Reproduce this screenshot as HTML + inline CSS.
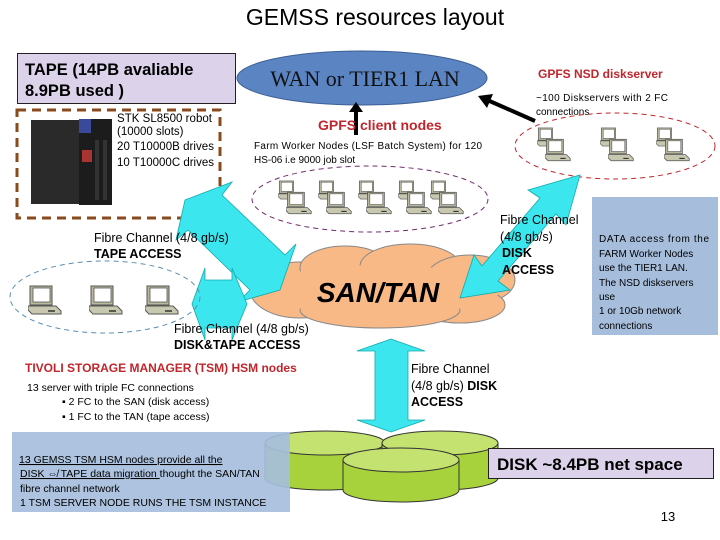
<!DOCTYPE html>
<html><head><meta charset="utf-8"><style>
html,body{margin:0;padding:0;background:#fff}
svg{display:block}
text{font-family:"Liberation Sans","DejaVu Sans",sans-serif}
</style></head><body>
<svg width="720" height="540" viewBox="0 0 720 540" xmlns="http://www.w3.org/2000/svg">
<defs>
<symbol id="pc" viewBox="0 0 34 30">
<rect x="2" y="1" width="22" height="19" fill="#b8b89c" stroke="#555" stroke-width="1"/>
<rect x="5" y="3" width="17" height="14" fill="#fff" stroke="#555" stroke-width="0.8"/>
<path d="M0 21 L28 21 L33 26 L33 29 L4 29 L0 25 Z" fill="#c8c8b0" stroke="#555" stroke-width="1"/>
<line x1="20" y1="26" x2="27" y2="26" stroke="#333" stroke-width="1.5"/>
</symbol>
</defs>

<text x="375" y="25" font-size="23" text-anchor="middle" fill="#000">GEMSS resources layout</text>

<rect x="17.5" y="53.5" width="218" height="50" fill="#dcd3ea" stroke="#222" stroke-width="1"/>
<text x="25" y="75" font-size="16.5" font-weight="bold">TAPE (14PB avaliable</text>
<text x="25" y="96" font-size="16.5" font-weight="bold">8.9PB used )</text>

<rect x="17" y="110" width="203" height="108" fill="none" stroke="#8b4a1c" stroke-width="3" stroke-dasharray="9,6"/>
<rect x="31" y="120" width="50" height="84" fill="#2a2a2a"/>
<rect x="79" y="119" width="33" height="86" fill="#1c1c1c"/>
<rect x="79" y="119" width="12" height="14" fill="#3a4a9a"/>
<rect x="82" y="150" width="10" height="12" fill="#a33"/>
<rect x="95" y="140" width="4" height="60" fill="#333"/>
<rect x="103" y="140" width="4" height="60" fill="#333"/>
<text x="117" y="122" font-size="11.5" textLength="95">STK SL8500 robot</text>
<text x="117" y="135" font-size="11.5">(10000 slots)</text>
<text x="117" y="150" font-size="11.5" textLength="97">20 T10000B drives</text>
<text x="117" y="166" font-size="11.5" textLength="97">10 T10000C drives</text>

<ellipse cx="362" cy="78" rx="125" ry="27" fill="#5b84c2" stroke="#3d5f94" stroke-width="1"/>
<text x="365" y="86" font-size="22" text-anchor="middle" style="font-family:'Liberation Serif',serif" fill="#111">WAN or TIER1 LAN</text>
<line x1="356" y1="135" x2="356" y2="110" stroke="#000" stroke-width="4"/>
<polygon points="349,112 363,112 356,102" fill="#000"/>
<line x1="535" y1="121" x2="485" y2="99" stroke="#000" stroke-width="4"/>
<polygon points="478,96 493,94 487,108" fill="#000"/>

<text x="318" y="130" font-size="14" font-weight="bold" fill="#c0262c">GPFS client nodes</text>
<text x="254" y="149" font-size="10" textLength="228">Farm Worker Nodes (LSF Batch System) for 120</text>
<text x="254" y="163" font-size="10">HS-06 i.e 9000 job slot</text>
<ellipse cx="370" cy="199" rx="118" ry="33" fill="none" stroke="#702b6e" stroke-width="1" stroke-dasharray="5,4"/>
<use href="#pc" x="278" y="180" width="22" height="20"/><use href="#pc" x="318" y="180" width="22" height="20"/><use href="#pc" x="358" y="180" width="22" height="20"/><use href="#pc" x="398" y="180" width="22" height="20"/><use href="#pc" x="430" y="180" width="22" height="20"/>
<use href="#pc" x="286" y="191" width="26" height="24"/><use href="#pc" x="326" y="191" width="26" height="24"/><use href="#pc" x="366" y="191" width="26" height="24"/><use href="#pc" x="406" y="191" width="26" height="24"/><use href="#pc" x="438" y="191" width="26" height="24"/>

<text x="538" y="78" font-size="12" font-weight="bold" fill="#c0262c">GPFS NSD diskserver</text>
<text x="536" y="101" font-size="10" textLength="132">~100 Diskservers with 2 FC</text>
<text x="536" y="115" font-size="10">connections</text>
<ellipse cx="615" cy="146" rx="100" ry="33" fill="none" stroke="#c0262c" stroke-width="1" stroke-dasharray="5,4"/>
<use href="#pc" x="537" y="127" width="22" height="20"/><use href="#pc" x="545" y="138" width="26" height="24"/>
<use href="#pc" x="600" y="127" width="22" height="20"/><use href="#pc" x="608" y="138" width="26" height="24"/>
<use href="#pc" x="656" y="127" width="22" height="20"/><use href="#pc" x="664" y="138" width="26" height="24"/>

<g fill="#f8b987" stroke="#888" stroke-width="1">
<ellipse cx="300" cy="290" rx="50" ry="28"/>
<ellipse cx="345" cy="268" rx="45" ry="22"/>
<ellipse cx="410" cy="266" rx="50" ry="22"/>
<ellipse cx="470" cy="280" rx="45" ry="25"/>
<ellipse cx="460" cy="305" rx="45" ry="18"/>
<ellipse cx="380" cy="310" rx="80" ry="18"/>
</g>
<ellipse cx="380" cy="290" rx="120" ry="25" fill="#f8b987"/>
<text x="378" y="302" font-size="28" font-weight="bold" font-style="italic" text-anchor="middle">SAN/TAN</text>

<g fill="#3ce6ee" stroke="#1aa" stroke-width="0.8">
<polygon points="185,200 232,182 222,195 285,255 296,244 280,290 238,302 250,290 188,230 176,240"/>
<polygon points="460,298 474,255 482,266 540,198 528,190 580,175 566,225 556,214 498,281 510,290"/>
<polygon points="192,304 205,268 205,280 232,280 232,268 247,304 232,340 232,328 205,328 205,340"/>
<polygon points="357,351 391,339 425,351 408,351 408,420 425,420 391,432 357,420 375,420 375,351"/>
</g>

<text x="94" y="242" font-size="12.5">Fibre Channel (4/8 gb/s)</text>
<text x="94" y="258" font-size="12.5" font-weight="bold">TAPE ACCESS</text>
<text x="500" y="224" font-size="12.5">Fibre Channel</text>
<text x="500" y="241" font-size="12.5">(4/8 gb/s)</text>
<text x="502" y="257" font-size="12.5" font-weight="bold">DISK</text>
<text x="502" y="274" font-size="12.5" font-weight="bold">ACCESS</text>

<ellipse cx="105" cy="297" rx="95" ry="36" fill="none" stroke="#5a8fb0" stroke-width="1" stroke-dasharray="5,4"/>
<use href="#pc" x="28" y="285" width="34" height="30"/>
<use href="#pc" x="89" y="285" width="34" height="30"/>
<use href="#pc" x="145" y="285" width="34" height="30"/>

<text x="174" y="333" font-size="12.5">Fibre Channel (4/8 gb/s)</text>
<text x="174" y="349" font-size="12.5" font-weight="bold">DISK&amp;TAPE ACCESS</text>

<text x="25" y="372" font-size="12" font-weight="bold" fill="#c0262c">TIVOLI STORAGE MANAGER  (TSM) HSM nodes</text>
<text x="27" y="391" font-size="10.5">13 server with triple FC connections</text>
<text x="62" y="405" font-size="10.5">▪   2 FC to the SAN (disk access)</text>
<text x="62" y="420" font-size="10.5">▪   1 FC to the TAN (tape access)</text>

<text x="411" y="373" font-size="12.5">Fibre Channel</text>
<text x="411" y="390" font-size="12.5">(4/8 gb/s) <tspan font-weight="bold">DISK</tspan></text>
<text x="411" y="406" font-size="12.5" font-weight="bold">ACCESS</text>

<g fill="#a8d23c" stroke="#333" stroke-width="1">
<path d="M265 443 L265 478 A60 12 0 0 0 385 478 L385 443 Z"/>
<ellipse cx="325" cy="443" rx="60" ry="12" fill="#c4e270"/>
<path d="M382 443 L382 478 A58 12 0 0 0 498 478 L498 443 Z"/>
<ellipse cx="440" cy="443" rx="58" ry="12" fill="#c4e270"/>
<path d="M343 460 L343 490 A58 12 0 0 0 459 490 L459 460 Z"/>
<ellipse cx="401" cy="460" rx="58" ry="12" fill="#c4e270"/>
</g>

<rect x="12" y="432" width="278" height="80" fill="#a6bedc" fill-opacity="0.92"/>
<text x="19" y="463" font-size="10.5" text-decoration="underline">13 GEMSS TSM HSM nodes provide all the</text>
<text x="20" y="477" font-size="10.5"><tspan text-decoration="underline">DISK ⇎ TAPE data migration </tspan>thought the SAN/TAN</text>
<text x="20" y="492" font-size="10.5">fibre channel  network</text>
<text x="20" y="506" font-size="10.5">1 TSM SERVER NODE RUNS THE TSM INSTANCE</text>

<rect x="592" y="197" width="126" height="138" fill="#a6bedc"/>
<text x="599" y="242" font-size="10" textLength="110">DATA  access from the</text>
<text x="599" y="257" font-size="10">FARM Worker Nodes</text>
<text x="599" y="271" font-size="10">use the TIER1 LAN.</text>
<text x="599" y="286" font-size="10">The NSD diskservers</text>
<text x="599" y="300" font-size="10">use</text>
<text x="599" y="314" font-size="10">1 or 10Gb network</text>
<text x="599" y="329" font-size="10">connections</text>

<rect x="488.5" y="448.5" width="225" height="30" fill="#dcd3ea" stroke="#222" stroke-width="1"/>
<text x="497" y="470" font-size="17" font-weight="bold">DISK ~8.4PB net space</text>

<text x="668" y="521" font-size="13" text-anchor="middle">13</text>
</svg>
</body></html>
